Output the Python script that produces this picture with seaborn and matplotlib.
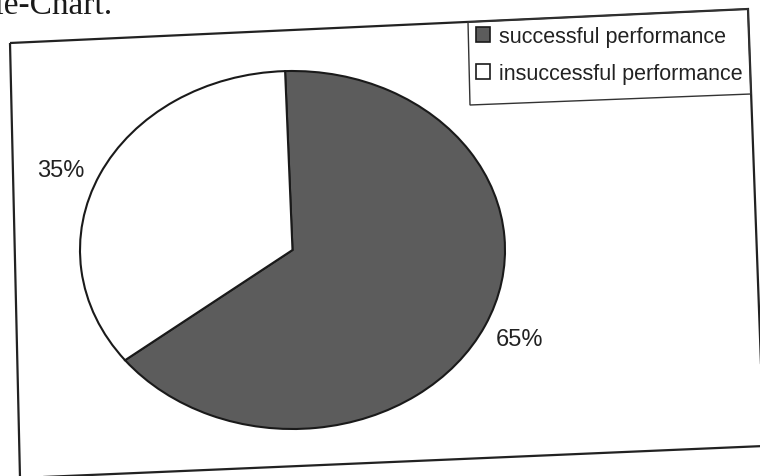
import matplotlib
matplotlib.use("Agg")
import matplotlib.pyplot as plt
from matplotlib.patches import Polygon
import seaborn as sns

# ---- data ----
categories = ["successful performance", "insuccessful performance"]
values = [65, 35]
colors = ["#5c5c5c", "#ffffff"]
title_text = "Pie-Chart."

sns.set_theme(style="white")
plt.rcParams["font.family"] = ["Liberation Sans", "DejaVu Sans"]

W, H = 760, 477
fig = plt.figure(figsize=(W / 100, H / 100), dpi=100)
fig.patch.set_facecolor("white")


def fc(x, y):
    return (x / W, 1 - y / H)


# partial caption at top-left (scanned page, clipped as in the source)
fig.text(112 / W, 1 - 14 / H, title_text, ha="right", va="baseline",
         fontsize=24, family=["Liberation Serif", "DejaVu Serif"], color="#1a1a1a")

# tilted chart frame
frame = Polygon([fc(10, 44), fc(748, 10), fc(764, 447), fc(20, 479)], closed=True,
                fill=False, edgecolor="#222222", linewidth=1.6,
                transform=fig.transFigure)
fig.add_artist(frame)

# legend box (tilted)
lbox = Polygon([fc(468, 23), fc(748, 10), fc(751, 95), fc(470, 106)], closed=True,
               fill=False, edgecolor="#333333", linewidth=1.0,
               transform=fig.transFigure)
fig.add_artist(lbox)

# pie
ax = fig.add_axes([80 / W, 1 - 430 / H, 425 / W, 358 / H])
wedges, texts, autotexts = ax.pie(
    values, colors=colors, startangle=92, counterclock=False,
    autopct="%d%%", pctdistance=1.18,
    wedgeprops=dict(edgecolor="#1a1a1a", linewidth=1.5),
    textprops=dict(fontsize=17, color="#222222"),
)
ax.set_aspect("auto")
ax.set_xlim(-1, 1)
ax.set_ylim(-1, 1)
ax.axis("off")
# nudge the small-slice label slightly down as in the source
x, y = autotexts[1].get_position()
autotexts[1].set_position((x - 0.02, y - 0.05))

leg = fig.legend(wedges, categories, loc="upper left",
                 bbox_to_anchor=(476 / W, 1 - 27 / H), bbox_transform=fig.transFigure,
                 frameon=False, fontsize=15.5, handlelength=0.65, handleheight=0.65,
                 handletextpad=0.4, labelspacing=0.75, borderaxespad=0,
                 borderpad=0)
for t in leg.get_texts():
    t.set_color("#222222")
for h in leg.legend_handles:
    h.set_edgecolor("#1a1a1a")
    h.set_linewidth(1.2)

fig.savefig("out.png", dpi=100)
